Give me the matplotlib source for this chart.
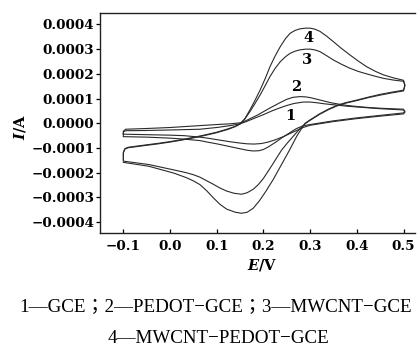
import matplotlib
matplotlib.use("Agg")
import matplotlib.pyplot as plt
from matplotlib.ticker import FixedLocator, FuncFormatter

plt.rcParams['mathtext.fontset'] = 'custom'
plt.rcParams['mathtext.it'] = 'DejaVu Serif:italic:bold'
plt.rcParams['mathtext.rm'] = 'DejaVu Serif:bold'

# current values in units of 1e-4 A, potential in V
# curve 1: GCE
e1_fwd = [-0.1, -0.1, -0.095, -0.05, 0.0, 0.064, 0.1, 0.13, 0.15, 0.162, 0.175, 0.188, 0.2, 0.218, 0.236, 0.25, 0.265,
          0.285, 0.3, 0.315, 0.33, 0.345, 0.36, 0.38, 0.4, 0.45, 0.5]
i1_fwd = [-0.44, -0.35, -0.30, -0.29, -0.27, -0.24, -0.17, -0.09, -0.02, 0.06, 0.16, 0.26, 0.35, 0.50, 0.63, 0.72, 0.80,
          0.86, 0.86, 0.83, 0.79, 0.76, 0.73, 0.69, 0.66, 0.59, 0.54]
e1_rev = [0.503, 0.5, 0.45, 0.4, 0.35, 0.3, 0.285, 0.27, 0.255, 0.24, 0.225, 0.21, 0.195, 0.18, 0.165, 0.15, 0.13, 0.1,
          0.08, 0.064, 0.03, 0.0, -0.05, -0.1]
i1_rev = [0.45, 0.38, 0.29, 0.19, 0.07, -0.08, -0.17, -0.30, -0.43, -0.56, -0.67, -0.76, -0.82, -0.84, -0.83, -0.80, -0.75,
          -0.66, -0.60, -0.56, -0.50, -0.48, -0.46, -0.44]

# curve 2: PEDOT-GCE
e2_fwd = [-0.1, -0.1, -0.095, -0.05, 0.0, 0.05, 0.1, 0.13, 0.15, 0.162, 0.175, 0.188, 0.2, 0.218, 0.236, 0.25, 0.263,
          0.278, 0.29, 0.3, 0.315, 0.33, 0.345, 0.36, 0.38, 0.4, 0.425, 0.45, 0.475, 0.5]
i2_fwd = [-0.50, -0.32, -0.24, -0.21, -0.17, -0.11, -0.05, -0.02, 0.02, 0.10, 0.22, 0.34, 0.47, 0.66, 0.84, 0.97, 1.05,
          1.08, 1.07, 1.04, 0.97, 0.90, 0.83, 0.78, 0.72, 0.68, 0.64, 0.61, 0.59, 0.57]
e2_rev = [0.503, 0.5, 0.45, 0.4, 0.35, 0.3, 0.285, 0.27, 0.255, 0.24, 0.225, 0.21, 0.2, 0.19, 0.178, 0.165, 0.15, 0.13,
          0.115, 0.1, 0.08, 0.064, 0.03, 0.0, -0.05, -0.1]
i2_rev = [0.48, 0.42, 0.32, 0.22, 0.10, -0.05, -0.10, -0.22, -0.40, -0.58, -0.78, -0.96, -1.06, -1.11, -1.12, -1.09, -1.03,
          -0.95, -0.89, -0.83, -0.76, -0.70, -0.64, -0.60, -0.56, -0.54]

# curve 3: MWCNT-GCE
e3_fwd = [-0.1, -0.1, -0.097, -0.09, -0.07, -0.05, -0.025, 0.0, 0.025, 0.05, 0.075, 0.1, 0.125, 0.14, 0.15, 0.16, 0.171,
          0.182, 0.193, 0.204, 0.214, 0.225, 0.236, 0.247, 0.257, 0.268, 0.278, 0.29, 0.3, 0.31, 0.321, 0.335, 0.35,
          0.367, 0.385, 0.403, 0.421, 0.44, 0.457, 0.478, 0.5]
i3_fwd = [-1.47, -1.18, -1.03, -0.97, -0.92, -0.87, -0.81, -0.74, -0.66, -0.57, -0.47, -0.36, -0.22, -0.12, -0.02, 0.17,
          0.47, 0.80, 1.15, 1.53, 1.89, 2.22, 2.49, 2.69, 2.83, 2.92, 2.97, 3.00, 3.00, 2.97, 2.90, 2.74, 2.56, 2.39,
          2.23, 2.10, 2.00, 1.90, 1.82, 1.75, 1.70]
e3_rev = [0.503, 0.5, 0.475, 0.45, 0.425, 0.4, 0.375, 0.357, 0.34, 0.32, 0.3, 0.289, 0.277, 0.265, 0.252, 0.239, 0.23,
          0.221, 0.21, 0.2, 0.189, 0.178, 0.165, 0.153, 0.137, 0.121, 0.107, 0.093, 0.078, 0.064, 0.05, 0.035, 0.009,
          -0.045, -0.1]
i3_rev = [1.52, 1.31, 1.23, 1.14, 1.04, 0.92, 0.81, 0.70, 0.56, 0.36, 0.12, -0.02, -0.24, -0.50, -0.78, -1.08, -1.35,
          -1.62, -1.94, -2.23, -2.48, -2.67, -2.81, -2.87, -2.83, -2.74, -2.62, -2.47, -2.32, -2.18, -2.08, -2.00, -1.89,
          -1.67, -1.53]

# curve 4: MWCNT-PEDOT-GCE
e4_fwd = [-0.1, -0.1, -0.097, -0.09, -0.07, -0.05, -0.025, 0.0, 0.025, 0.05, 0.075, 0.1, 0.125, 0.14, 0.15, 0.16, 0.171,
          0.182, 0.193, 0.204, 0.214, 0.225, 0.236, 0.247, 0.257, 0.268, 0.278, 0.29, 0.3, 0.31, 0.321, 0.335, 0.35,
          0.367, 0.385, 0.403, 0.421, 0.44, 0.457, 0.478, 0.5]
i4_fwd = [-1.50, -1.20, -1.05, -0.99, -0.94, -0.89, -0.83, -0.76, -0.68, -0.59, -0.49, -0.38, -0.24, -0.13, -0.03, 0.18,
          0.54, 0.93, 1.35, 1.82, 2.29, 2.72, 3.10, 3.42, 3.64, 3.76, 3.82, 3.85, 3.85, 3.81, 3.72, 3.53, 3.30, 3.03,
          2.77, 2.52, 2.29, 2.10, 1.96, 1.84, 1.74]
e4_rev = [0.503, 0.5, 0.475, 0.45, 0.425, 0.4, 0.375, 0.357, 0.34, 0.32, 0.3, 0.289, 0.272, 0.256, 0.246, 0.236, 0.222,
          0.207, 0.192, 0.178, 0.165, 0.153, 0.14, 0.121, 0.107, 0.093, 0.078, 0.064, 0.05, 0.035, 0.009, -0.045, -0.1]
i4_rev = [1.55, 1.34, 1.26, 1.17, 1.06, 0.94, 0.83, 0.72, 0.58, 0.38, 0.14, 0.0, -0.50, -1.08, -1.42, -1.76, -2.24,
          -2.70, -3.12, -3.44, -3.60, -3.64, -3.60, -3.47, -3.28, -3.02, -2.72, -2.48, -2.33, -2.20, -2.02, -1.74, -1.58]

curve_labels = ["1", "2", "3", "4"]
label_pos = [(0.257, 0.3), (0.271, 1.46), (0.293, 2.56), (0.296, 3.44)]

xticks = [-0.1, 0.0, 0.1, 0.2, 0.3, 0.4, 0.5]
yticks = [-0.0004, -0.0003, -0.0002, -0.0001, 0.0, 0.0001, 0.0002, 0.0003, 0.0004]

caption1 = "1—GCE；2—PEDOT−GCE；3—MWCNT−GCE"
caption2 = "4—MWCNT−PEDOT−GCE"

fig = plt.figure(figsize=(4.17, 3.56), dpi=100)
ax = fig.add_axes([0.2398, 0.3447, 0.7554, 0.6179])

curves = [(e1_fwd, i1_fwd, e1_rev, i1_rev),
          (e2_fwd, i2_fwd, e2_rev, i2_rev),
          (e3_fwd, i3_fwd, e3_rev, i3_rev),
          (e4_fwd, i4_fwd, e4_rev, i4_rev)]
for ef, i_f, er, i_r in curves:
    e = ef + er
    cur = [v * 1e-4 for v in i_f + i_r]
    ax.plot(e, cur, color='#2a2a2a', lw=0.8, solid_joinstyle='round')

for lab, (x, y) in zip(curve_labels, label_pos):
    ax.text(x, y * 1e-4, lab, fontsize=10.5, fontweight='bold', family='DejaVu Serif',
            ha='center', va='center')

ax.set_xlim(-0.15, 0.5246)
ax.set_ylim(-0.000445, 0.000445)
ax.spines['right'].set_visible(False)
for s in ax.spines.values():
    s.set_linewidth(1.0)
    s.set_color('#222222')

ax.xaxis.set_major_locator(FixedLocator(xticks))
ax.yaxis.set_major_locator(FixedLocator(yticks))
ax.xaxis.set_major_formatter(FuncFormatter(lambda v, p: ("%.1f" % v).replace('-', '−')))
ax.yaxis.set_major_formatter(FuncFormatter(lambda v, p: ("%.4f" % (v + 0.0)).replace('-', '−')))
ax.tick_params(axis='x', direction='in', length=3, width=0.9, pad=4.5, top=False)
ax.tick_params(axis='y', direction='out', length=3, width=0.9, pad=1.0, right=False)
for t in ax.get_xticklabels() + ax.get_yticklabels():
    t.set_family('DejaVu Serif')
    t.set_fontweight('bold')
    t.set_fontsize(9.7)

fig.text(0.048, 0.6433, "$I$/A", rotation=90, ha='center', va='center',
         fontsize=10.5, fontweight='bold', family='DejaVu Serif')
fig.text(0.628, 0.256, "$E$/V", ha='center', va='center',
         fontsize=10.5, fontweight='bold', family='DejaVu Serif')

fig.text(0.518, 0.135, caption1, ha='center', va='center', fontsize=13.7,
         family=['Liberation Serif', 'Noto Sans CJK TC'])
fig.text(0.524, 0.05, caption2, ha='center', va='center', fontsize=13.7,
         family=['Liberation Serif', 'Noto Sans CJK TC'])

fig.savefig("out.png", dpi=100)
